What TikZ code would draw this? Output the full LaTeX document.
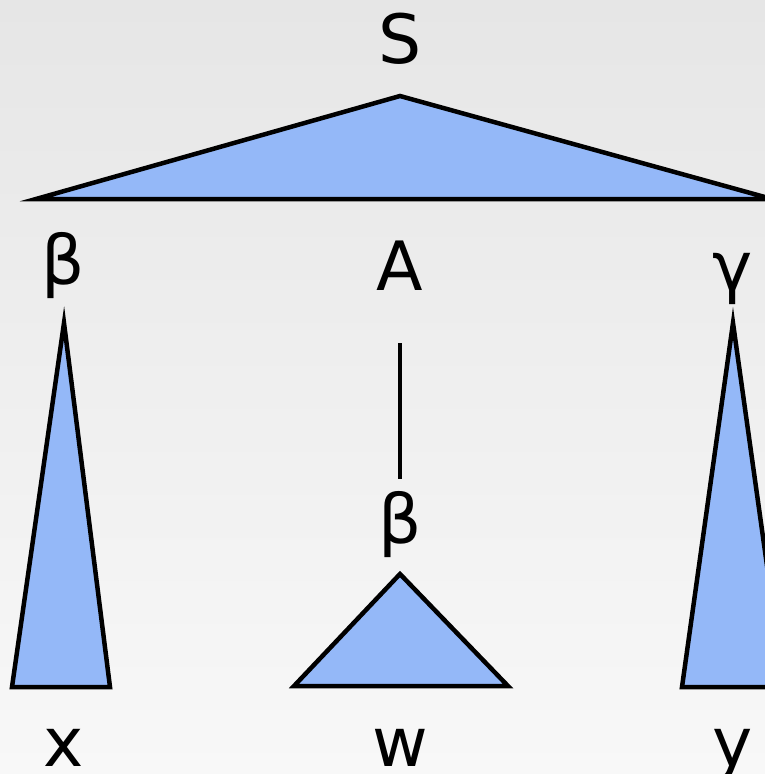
\documentclass[tikz,border=0pt]{standalone}
\usepackage{fontspec}
\setmainfont{DejaVu Sans}
\definecolor{bgtop}{HTML}{E6E6E6}
\definecolor{bgbot}{HTML}{F8F8F8}
\definecolor{tri}{HTML}{94B8F8}
\begin{document}
\begin{tikzpicture}[x=1pt,y=-1pt,
  lbl/.style={font=\fontsize{68}{80}\selectfont, inner sep=0pt, anchor=base},
  tree/.style={draw=black, fill=tri, line width=4.5pt, line join=miter},
  edge/.style={draw=black, line width=4pt}]
\fill[top color=bgtop, bottom color=bgbot] (0,0) rectangle (765,774);
\useasboundingbox (0,0) rectangle (765,774);
% labels
\node[lbl] (S) at (400,63) {S};
\node[lbl] (b1) at (63,284) {β};
\node[lbl] (A) at (400,290) {A};
\node[lbl] (g) at (733,290) {γ};
\node[lbl] (b2) at (400,543) {β};
\node[lbl] (x) at (64,766) {x};
\node[lbl] (w) at (400,766) {w};
\node[lbl] (y) at (733,766) {y};
% triangles
\coordinate (s0) at (400,96);
\coordinate (s1) at (36,199);
\coordinate (s2) at (772,199);
\path[tree] (s0) -- (s1) -- (s2) -- cycle;
\coordinate (l0) at (64,323);
\coordinate (l1) at (12,687);
\coordinate (l2) at (110,687);
\path[tree] (l0) -- (l1) -- (l2) -- cycle;
\coordinate (r0) at (733,323);
\coordinate (r1) at (682,687);
\coordinate (r2) at (784,687);
\path[tree] (r0) -- (r1) -- (r2) -- cycle;
\coordinate (m0) at (400,574);
\coordinate (m1) at (294,686);
\coordinate (m2) at (508,686);
\path[tree] (m0) -- (m1) -- (m2) -- cycle;
% connector
\coordinate (e0) at (400,343);
\coordinate (e1) at (400,479);
\draw[edge] (e0) -- (e1);
\end{tikzpicture}
\end{document}
